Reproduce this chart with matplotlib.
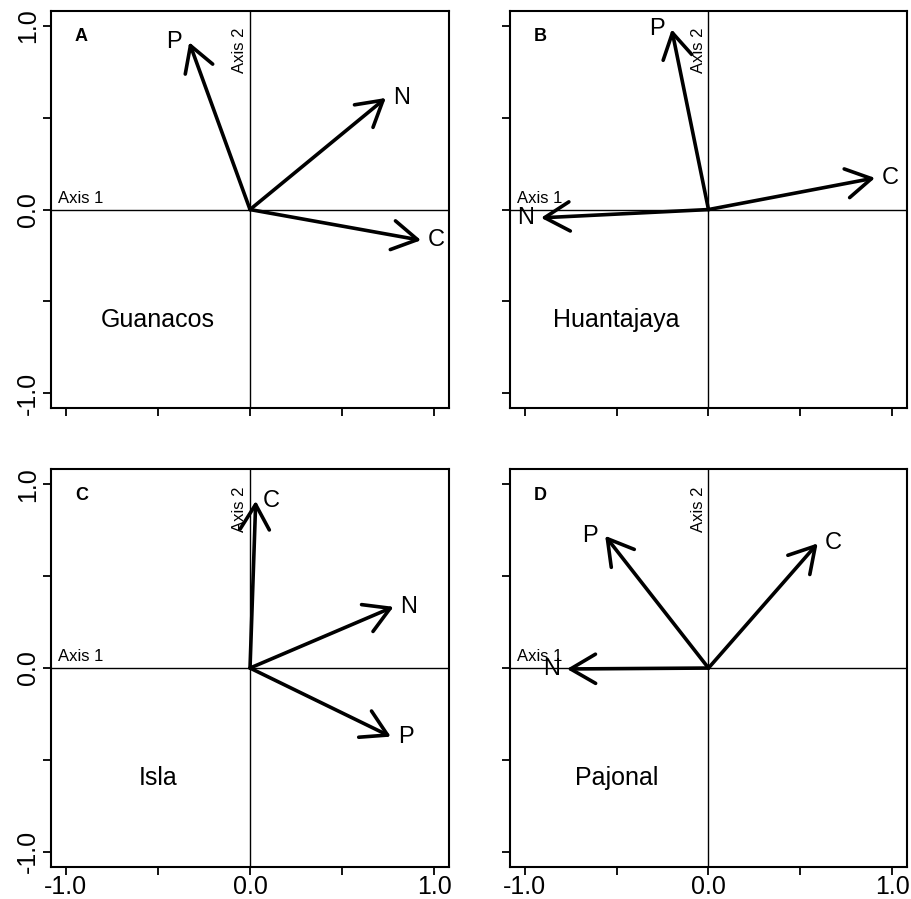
import matplotlib
matplotlib.use('Agg')
import matplotlib.pyplot as plt

plt.rcParams['font.family'] = ['Liberation Sans', 'DejaVu Sans']

# datos
paneles = ['A', 'B', 'C', 'D']
sitios = ['Guanacos', 'Huantajaya', 'Isla', 'Pajonal']
variables = ['P', 'N', 'C']
eje1 = {
    'A': [-0.33, 0.737, 0.928],
    'B': [-0.20, -0.911, 0.906],
    'C': [0.764, 0.779, 0.031],
    'D': [-0.562, -0.770, 0.594],
}
eje2 = {
    'A': [0.91, 0.607, -0.167],
    'B': [0.98, -0.045, 0.172],
    'C': [-0.373, 0.333, 0.909],
    'D': [0.719, -0.005, 0.678],
}
ticks = [-1.0, -0.5, 0.0, 0.5, 1.0]
tick_labels = ['-1.0', '', '0.0', '', '1.0']

fig = plt.figure(figsize=(9.11, 8.99), dpi=100)

posiciones = {
    'A': [0.056, 0.546, 0.4369, 0.4418],
    'B': [0.5598, 0.546, 0.4358, 0.4418],
    'C': [0.056, 0.036, 0.4369, 0.4418],
    'D': [0.5598, 0.036, 0.4358, 0.4418],
}

for i, p in enumerate(paneles):
    ax = fig.add_axes(posiciones[p])
    ax.set_xlim(-1.08, 1.08)
    ax.set_ylim(-1.08, 1.08)
    ax.axhline(0, color='black', lw=1.0)
    ax.axvline(0, color='black', lw=1.0)
    for s in ax.spines.values():
        s.set_linewidth(1.5)

    ax.set_xticks(ticks)
    ax.set_yticks(ticks)
    ax.tick_params(direction='out', length=6, width=1.3, labelsize=18)
    ax.tick_params(axis='x', pad=0)
    ax.tick_params(axis='y', pad=2)
    if i >= 2:
        ax.set_xticklabels(tick_labels)
    else:
        ax.set_xticklabels([])
    if i % 2 == 0:
        ax.set_yticklabels(tick_labels, rotation=90, va='center')
    else:
        ax.set_yticklabels([])

    for v, x, y in zip(variables, eje1[p], eje2[p]):
        ax.annotate('', xy=(x, y), xytext=(0, 0),
                    arrowprops=dict(arrowstyle='->,head_length=1.8,head_width=1.05',
                                    lw=2.6, color='black', shrinkA=0, shrinkB=0,
                                    mutation_scale=10))
        dx = -11 if x < 0 else 11
        ax.annotate(v, xy=(x, y), xytext=(dx, 0), textcoords='offset points',
                    ha='center', va='center', fontsize=17)

    ax.text(-1.04, 0.02, 'Axis 1', ha='left', va='bottom', fontsize=12)
    ax.text(-0.015, 0.99, 'Axis 2', ha='right', va='top', rotation=90, fontsize=12)
    ax.text(-0.915, 0.94, p, ha='center', va='center', fontsize=13, fontweight='bold')
    ax.text(-0.5, -0.6, sitios[i], ha='center', va='center', fontsize=18)

fig.savefig('out.png', dpi=100)
